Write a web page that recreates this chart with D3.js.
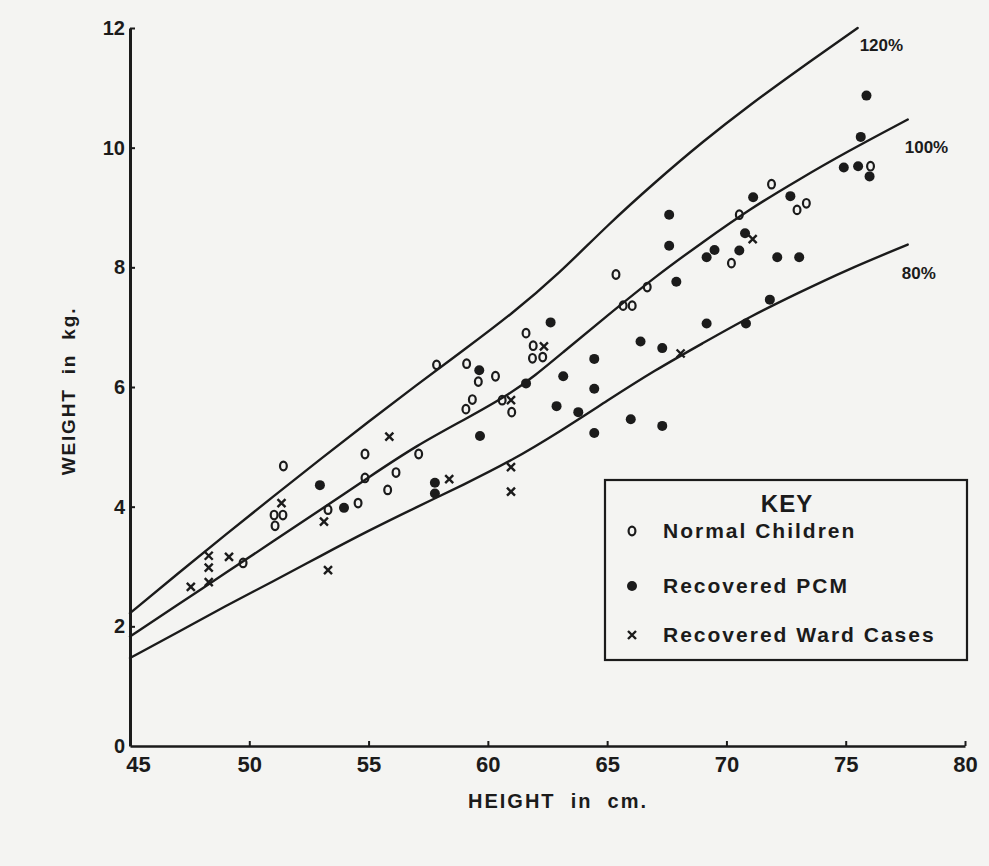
<!DOCTYPE html>
<html>
<head>
<meta charset="utf-8">
<script src="https://cdn.jsdelivr.net/npm/d3@7"></script>
<style>
  html, body { margin: 0; padding: 0; background: #f4f4f2; }
  svg { display: block; }
  text { font-family: "Liberation Sans", Arial, sans-serif; font-weight: bold; fill: #1b1b1b; }
</style>
</head>
<body>
<svg id="chart" width="989" height="866"></svg>
<script>
// Weight-for-height reference curves (height cm, weight kg)
const curve120 = [[45,2.22],[47,2.88],[49,3.53],[51,4.17],[53,4.8],[55,5.42],[57,6.03],[59,6.62],[61,7.22],[63,7.9],[65,8.7],[67,9.42],[69,10.1],[71,10.72],[73,11.3],[75.5,12.0]];
const curve100 = [[45,1.83],[47,2.36],[49,2.89],[51,3.42],[53,3.95],[55,4.49],[57,5.02],[59,5.45],[61,5.9],[62,6.2],[63,6.53],[65,7.19],[67,7.84],[69,8.42],[71,8.98],[73,9.46],[75,9.92],[77.6,10.47]];
const curve80 = [[45,1.47],[47,1.9],[49,2.34],[51,2.75],[53,3.18],[55,3.6],[57,3.99],[59,4.37],[61,4.77],[63,5.25],[65,5.77],[67,6.28],[69,6.73],[71,7.18],[73,7.57],[75,7.95],[77.6,8.38]];
const curveLabels = ["120%", "100%", "80%"];

// Individual children: [height cm, weight kg]
const normalChildren = [[51.43,4.68],[54.85,4.88],[54.85,4.48],[56.15,4.57],[55.8,4.28],[54.56,4.06],[57.1,4.88],[51.04,3.86],[51.41,3.86],[51.08,3.68],[53.3,3.95],[49.74,3.06],
  [57.85,6.37],[59.11,6.39],[59.6,6.09],[60.32,6.18],[59.35,5.79],[59.08,5.63],[60.6,5.78],[61.0,5.58],[61.6,6.9],[61.9,6.69],[61.87,6.48],[62.3,6.5],
  [65.67,7.36],[66.05,7.36],[66.68,7.67],[65.37,7.88],[70.54,8.88],[71.89,9.39],[72.96,8.96],[73.35,9.07],[70.21,8.07],[76.04,9.69]];
const recoveredPCM = [[52.96,4.36],[53.97,3.98],[57.78,4.40],[57.78,4.22],[59.64,6.28],[59.67,5.18],[61.6,6.06],[62.63,7.08],[63.16,6.18],[64.46,6.47],[64.46,5.97],[62.88,5.68],[63.79,5.58],[64.46,5.23],
  [66.4,6.76],[67.31,6.65],[65.99,5.46],[67.31,5.35],[67.9,7.76],[67.6,8.88],[67.6,8.36],[69.17,7.06],[70.82,7.06],[71.82,7.46],[71.12,9.17],[72.68,9.19],[70.78,8.57],[69.5,8.29],[69.17,8.17],[70.54,8.28],
  [72.13,8.17],[73.05,8.17],[74.92,9.67],[75.52,9.69],[75.87,10.87],[75.63,10.18],[76.0,9.52]];
const wardCases = [[55.87,5.17],[51.35,4.06],[53.13,3.75],[53.3,2.94],[48.3,3.18],[48.3,2.98],[48.3,2.74],[47.55,2.66],[49.15,3.16],[60.97,5.78],[62.35,6.68],[68.08,6.56],[71.1,8.47],[58.38,4.46],[60.97,4.66],[60.97,4.25]];

const xTicks = [45,50,55,60,65,70,75,80];
const yTicks = [0,2,4,6,8,10,12];
const legendLabels = ["Normal Children", "Recovered PCM", "Recovered Ward Cases"];

const ink = "#1b1b1b";
const svg = d3.select("#chart");

const x = d3.scaleLinear().domain([45, 80]).range([130, 965]);
const y = d3.scaleLinear().domain([0, 12]).range([746, 28]);

// Axes
const xAxis = svg.append("g")
  .attr("transform", `translate(0,${y(0)})`)
  .call(d3.axisBottom(x).tickValues(xTicks).tickSizeInner(-5).tickSizeOuter(0).tickPadding(10));
xAxis.select(".domain").attr("stroke", ink).attr("stroke-width", 2.6);
xAxis.selectAll(".tick line").attr("stroke", ink).attr("stroke-width", 2);
xAxis.selectAll(".tick text").attr("font-size", 22).attr("fill", ink)
  .attr("font-family", "Liberation Sans, Arial, sans-serif").attr("font-weight", "bold");
xAxis.selectAll(".tick").filter(d => d === 45).select("text").attr("dx", 8);

const yAxis = svg.append("g")
  .attr("transform", `translate(${x(45)},0)`)
  .call(d3.axisLeft(y).tickValues(yTicks).tickSizeInner(-5).tickSizeOuter(0).tickPadding(5));
yAxis.select(".domain").attr("stroke", ink).attr("stroke-width", 3);
yAxis.selectAll(".tick line").attr("stroke", ink).attr("stroke-width", 2);
yAxis.selectAll(".tick").filter(d => d === 0).select("line").remove();
yAxis.selectAll(".tick text").attr("font-size", 20).attr("fill", ink)
  .attr("font-family", "Liberation Sans, Arial, sans-serif").attr("font-weight", "bold");

// Axis titles
svg.append("text")
  .attr("x", 558).attr("y", 808)
  .attr("text-anchor", "middle")
  .attr("font-size", 20).attr("letter-spacing", 2)
  .attr("xml:space", "preserve")
  .text("HEIGHT  in  cm.");

svg.append("text")
  .attr("transform", `translate(75,391) rotate(-90)`)
  .attr("text-anchor", "middle")
  .attr("font-size", 19).attr("letter-spacing", 1.8)
  .attr("xml:space", "preserve")
  .text("WEIGHT  in  kg.");

// Reference curves
const line = d3.line().x(d => x(d[0])).y(d => y(d[1])).curve(d3.curveBasis);
const curves = [curve120, curve100, curve80];
const labelOffsets = [[2, 23], [-3, 33], [-6, 34]];
curves.forEach((c, i) => {
  svg.append("path")
    .datum(c)
    .attr("d", line)
    .attr("fill", "none")
    .attr("stroke", ink)
    .attr("stroke-width", 2.4)
    .attr("stroke-linecap", "round");
  const end = c[c.length - 1];
  svg.append("text")
    .attr("x", x(end[0]) + labelOffsets[i][0])
    .attr("y", y(end[1]) + labelOffsets[i][1])
    .attr("font-size", 17)
    .text(curveLabels[i]);
});

// Point markers
function drawRing(g, px, py) {
  g.append("ellipse").attr("cx", px).attr("cy", py).attr("rx", 3.4).attr("ry", 4.3)
    .attr("fill", "none").attr("stroke", ink).attr("stroke-width", 2.2);
}
function drawDot(g, px, py) {
  g.append("circle").attr("cx", px).attr("cy", py).attr("r", 5).attr("fill", ink);
}
function drawCross(g, px, py) {
  const s = 4;
  g.append("path")
    .attr("d", `M${px - s},${py - s}L${px + s},${py + s}M${px + s},${py - s}L${px - s},${py + s}`)
    .attr("stroke", ink).attr("stroke-width", 2.4).attr("fill", "none");
}

const marks = svg.append("g");
normalChildren.forEach(d => drawRing(marks, x(d[0]), y(d[1])));
recoveredPCM.forEach(d => drawDot(marks, x(d[0]), y(d[1])));
wardCases.forEach(d => drawCross(marks, x(d[0]), y(d[1])));

// Key
const key = svg.append("g");
key.append("rect")
  .attr("x", 605).attr("y", 480).attr("width", 362).attr("height", 180)
  .attr("fill", "none").attr("stroke", ink).attr("stroke-width", 2.2);
key.append("text")
  .attr("x", 787).attr("y", 512).attr("text-anchor", "middle")
  .attr("font-size", 24).attr("letter-spacing", 1)
  .text("KEY");
const keyRows = [538, 593, 642];
const keyMarkers = [drawRing, drawDot, drawCross];
legendLabels.forEach((lab, i) => {
  keyMarkers[i](key, 632, keyRows[i] - 7);
  key.append("text")
    .attr("x", 663).attr("y", keyRows[i])
    .attr("font-size", 21).attr("letter-spacing", 2)
    .text(lab);
});
</script>
</body>
</html>
